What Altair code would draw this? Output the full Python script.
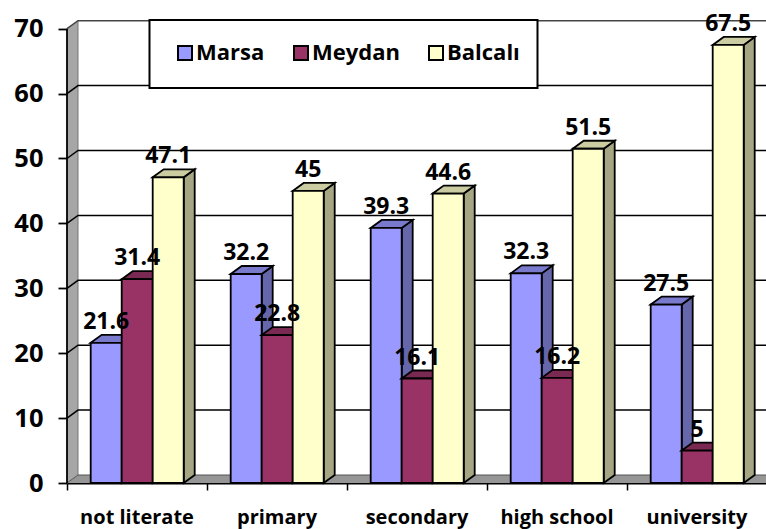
import altair as alt
import pandas as pd

categories = ["not literate", "primary", "secondary", "high school", "university"]
series_names = ["Marsa", "Meydan", "Balcalı"]
marsa = [21.6, 32.2, 39.3, 32.3, 27.5]
meydan = [31.4, 22.8, 16.1, 16.2, 5]
balcali = [47.1, 45, 44.6, 51.5, 67.5]
front_colors = ["#9999ff", "#993366", "#ffffcc"]
top_colors = ["#7a7acc", "#7a2952", "#cccca3"]
side_colors = ["#6666aa", "#662244", "#a6a685"]
y_ticks = [0, 10, 20, 30, 40, 50, 60, 70]

FONT = "Open Sans"
PX_PER_GROUP = 140.0
PX_PER_UNIT = 6.49
PLOT_W = 699
PLOT_H = 483
DEPTH_X = 11 / PX_PER_GROUP
DEPTH_Y = 8 / PX_PER_UNIT
BAR_W = 31 / PX_PER_GROUP
BAR_START = 23.7 / PX_PER_GROUP
X_MAX = PLOT_W / PX_PER_GROUP
Y_MAX = PLOT_H / PX_PER_UNIT
OUTLINE = 1.8

x_scale = alt.Scale(domain=[0, X_MAX], nice=False, zero=False)
y_scale = alt.Scale(domain=[0, Y_MAX], nice=False, zero=False)
color_scale = alt.Scale(domain=series_names, range=front_colors)

X = alt.X("x:Q", scale=x_scale, title=None,
          axis=alt.Axis(values=[0, 1, 2, 3, 4], labels=False, grid=False, tickSize=7,
                        tickWidth=1.5, tickColor="black", domainColor="black",
                        domainWidth=1.8, title=None))
Y = alt.Y("y:Q", scale=y_scale, title=None,
          axis=alt.Axis(values=y_ticks, grid=False, domain=False, tickSize=9, tickWidth=1.8,
                        tickColor="black", labelFont=FONT, labelFontSize=25.5,
                        labelFontWeight="bold", labelColor="black", labelPadding=15,
                        title=None))
X_PLAIN = alt.X("x:Q", scale=x_scale, title=None)
Y_PLAIN = alt.Y("y:Q", scale=y_scale, title=None)


def area_layer(rows, **mark):
    return alt.Chart(pd.DataFrame(rows)).mark_area(**mark).encode(
        x=X_PLAIN, y=Y_PLAIN, y2="y2:Q", detail="k:N")


def line_layer(rows, color, width):
    return alt.Chart(pd.DataFrame(rows)).mark_line(
        color=color, strokeWidth=width).encode(x=X_PLAIN, y=Y_PLAIN, detail="k:N")


# Walls and floor behind the columns
wall_rows = [
    {"k": "w", "x": 0, "y": 70, "y2": 0},
    {"k": "w", "x": DEPTH_X, "y": 70 + DEPTH_Y, "y2": DEPTH_Y},
]
floor_rows = [
    {"k": "f", "x": 0, "y": 0, "y2": 0},
    {"k": "f", "x": DEPTH_X, "y": DEPTH_Y, "y2": 0},
    {"k": "f", "x": X_MAX, "y": DEPTH_Y, "y2": 0},
]
grid_rows = []
for t in y_ticks:
    grid_rows += [
        {"k": t, "x": 0, "y": t},
        {"k": t, "x": DEPTH_X, "y": t + DEPTH_Y},
        {"k": t, "x": X_MAX, "y": t + DEPTH_Y},
    ]
top_edge = [r for r in grid_rows if r["k"] == 70]
floor_edge = [r for r in grid_rows if r["k"] == 0]
inner_grid = [r for r in grid_rows if r["k"] not in (0, 70)]
wall_edge = [{"k": "e", "x": DEPTH_X, "y": DEPTH_Y}, {"k": "e", "x": DEPTH_X, "y": 70 + DEPTH_Y}]
spine = [{"k": "s", "x": 0, "y": 0}, {"k": "s", "x": 0, "y": 70}]

base = alt.Chart(pd.DataFrame({"x": [0, X_MAX], "y": [0, Y_MAX]})).mark_point(opacity=0).encode(x=X, y=Y)

layers = [
    base,
    area_layer(wall_rows, color="#a6a6a6"),
    area_layer(floor_rows, color="#969696"),
    line_layer(wall_edge, "#777777", 1),
    line_layer(inner_grid, "black", 1.5),
    line_layer(floor_edge, "#555555", 1),
    line_layer(top_edge, "#444444", 1.5),
    line_layer(spine, "black", OUTLINE),
    # Legend frame
    alt.Chart(pd.DataFrame({"k": [0]})).mark_rect(
        fill="white", stroke="black", strokeWidth=2
    ).encode(x=alt.value(82.5), x2=alt.value(470.5), y=alt.value(20), y2=alt.value(88)),
]

labels = []
all_values = [marsa, meydan, balcali]
for s, (name, values) in enumerate(zip(series_names, all_values)):
    side, top, front = [], [], []
    for g, v in enumerate(values):
        left = g + BAR_START + s * BAR_W
        right = left + BAR_W
        side += [
            {"k": g, "x": right, "y": v, "y2": 0},
            {"k": g, "x": right + DEPTH_X, "y": v + DEPTH_Y, "y2": DEPTH_Y},
        ]
        top += [
            {"k": g, "x": left, "y": v, "y2": v},
            {"k": g, "x": left + DEPTH_X, "y": v + DEPTH_Y, "y2": v},
            {"k": g, "x": right, "y": v + DEPTH_Y, "y2": v},
            {"k": g, "x": right + DEPTH_X, "y": v + DEPTH_Y, "y2": v + DEPTH_Y},
        ]
        front.append({"x": left, "x2": right, "y": v, "y0": 0, "series": name})
        labels.append({"x": (left + right) / 2, "y": v, "text": str(v)})
    layers.append(area_layer(side, color=side_colors[s], stroke="black", strokeWidth=OUTLINE))
    layers.append(area_layer(top, color=top_colors[s], stroke="black", strokeWidth=OUTLINE))
    layers.append(
        alt.Chart(pd.DataFrame(front)).mark_bar(stroke="black", strokeWidth=OUTLINE).encode(
            x=X_PLAIN, x2="x2:Q", y=Y_PLAIN, y2="y0:Q",
            color=alt.Color(
                "series:N", scale=color_scale, sort=None,
                legend=alt.Legend(
                    orient="none", legendX=107, legendY=42, direction="horizontal",
                    columns=3, title=None, symbolType="square", symbolSize=196,
                    symbolStrokeColor="black", symbolStrokeWidth=2, symbolOpacity=1,
                    labelFont=FONT, labelFontSize=22, labelFontWeight="bold",
                    labelColor="black", labelOffset=0, columnPadding=25,
                ),
            ),
        )
    )

# Value labels above the columns
layers.append(
    alt.Chart(pd.DataFrame(labels)).mark_text(
        font=FONT, fontSize=23, fontWeight="bold", color="black",
        baseline="alphabetic", align="center", dy=-14,
    ).encode(x=X_PLAIN, y=Y_PLAIN, text="text:N")
)

# Category names under the axis
cat_rows = [{"x": i + 0.5, "text": c} for i, c in enumerate(categories)]
layers.append(
    alt.Chart(pd.DataFrame(cat_rows)).mark_text(
        font=FONT, fontSize=20, fontWeight="bold", color="black",
        baseline="alphabetic", align="center",
    ).encode(x=X_PLAIN, y=alt.value(524), text="text:N")
)

chart = alt.layer(*layers).properties(
    width=PLOT_W,
    height=PLOT_H,
    autosize=alt.AutoSizeParams(type="none"),
    padding={"left": 67, "top": 0, "right": 0, "bottom": 46},
    background="white",
).configure_view(stroke=None)

chart.save("out.html", embed_options={"renderer": "svg", "actions": False})
